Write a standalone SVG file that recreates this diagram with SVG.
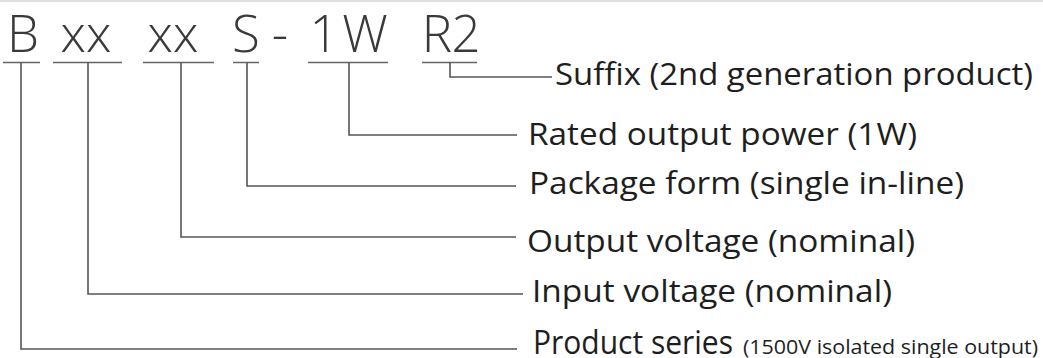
<svg xmlns="http://www.w3.org/2000/svg" width="1043" height="358" viewBox="0 0 1043 358">
<style>
.hdr{font-family:"Open Sans","Noto Sans","Liberation Sans",sans-serif;font-size:51px;font-weight:300;fill:#3a3a3a;text-anchor:middle}
.lbl{font-family:"Open Sans","Noto Sans","Liberation Sans",sans-serif;font-size:31px;fill:#1e1e1e}
.big{font-size:32px}
.sm{font-size:20px}
.ul{stroke:#666;stroke-width:1.5;fill:none}
.conn{stroke:#555;stroke-width:1.6;fill:none}
</style>
<rect width="1043" height="358" fill="#ffffff"/>
<line x1="0" y1="1" x2="1043" y2="1" stroke="#e0e0e0" stroke-width="2"/>
<g id="seg-B"><text class="hdr" x="23" y="52">B</text><line class="ul" x1="3" y1="62.5" x2="40" y2="62.5"/></g>
<g id="seg-in"><text class="hdr" x="86" y="52">xx</text><line class="ul" x1="53" y1="62.5" x2="122" y2="62.5"/></g>
<g id="seg-out"><text class="hdr" x="173" y="52">xx</text><line class="ul" x1="143" y1="62.5" x2="214" y2="62.5"/></g>
<g id="seg-S"><text class="hdr" x="246" y="52">S</text><line class="ul" x1="233" y1="62.5" x2="259" y2="62.5"/></g>
<g id="seg-dash"><text class="hdr" x="280" y="52">-</text></g>
<g id="seg-1W"><text class="hdr" x="324" y="52">1</text><text class="hdr" x="365" y="52">W</text><line class="ul" x1="308" y1="62.5" x2="388" y2="62.5"/></g>
<g id="seg-R2"><text class="hdr" x="437" y="52">R</text><text class="hdr" x="466" y="52">2</text><line class="ul" x1="422" y1="62.5" x2="477" y2="62.5"/></g>
<g id="connectors">
<polyline class="conn" points="450,62.5 450,77 552,77"/>
<polyline class="conn" points="349,62.5 349,135 517,135"/>
<polyline class="conn" points="247,62.5 247,186 516,186"/>
<polyline class="conn" points="181,62.5 181,237 516,237"/>
<polyline class="conn" points="88,62.5 88,294 523,294"/>
<polyline class="conn" points="21,62.5 21,349 517,349"/>
</g>
<g id="lbl-suffix"><text class="lbl" x="555" y="85" textLength="478" lengthAdjust="spacingAndGlyphs">Suffix (2nd generation product)</text></g>
<g id="lbl-power"><text class="lbl" x="528" y="145" textLength="389" lengthAdjust="spacingAndGlyphs">Rated output power (1W)</text></g>
<g id="lbl-package"><text class="lbl" x="529" y="194" textLength="435" lengthAdjust="spacingAndGlyphs">Package form (single in-line)</text></g>
<g id="lbl-output"><text class="lbl" x="527" y="252" textLength="388" lengthAdjust="spacingAndGlyphs">Output voltage (nominal)</text></g>
<g id="lbl-input"><text class="lbl" x="532" y="302" textLength="360" lengthAdjust="spacingAndGlyphs">Input voltage (nominal)</text></g>
<g id="lbl-series"><text class="lbl" x="533" y="354"><tspan class="big" textLength="200" lengthAdjust="spacingAndGlyphs">Product series</tspan><tspan class="sm" x="743" textLength="295" lengthAdjust="spacingAndGlyphs">(1500V isolated single output)</tspan></text></g>
</svg>
